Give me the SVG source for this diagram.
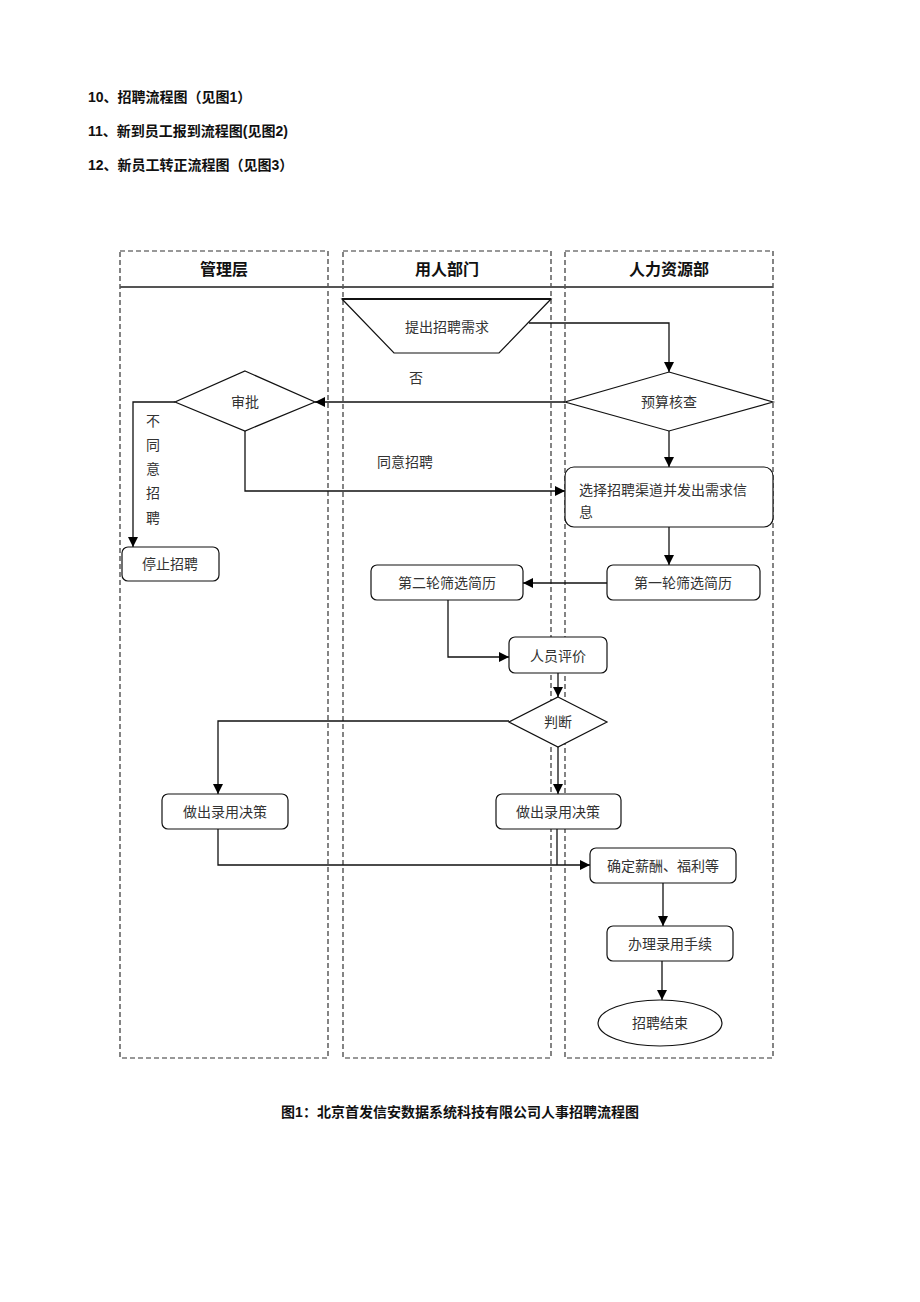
<svg xmlns="http://www.w3.org/2000/svg" width="920" height="1302" viewBox="0 0 920 1302">
<defs>
<marker id="ah" viewBox="0 0 10 10" refX="10" refY="5" markerWidth="10" markerHeight="10" markerUnits="userSpaceOnUse" orient="auto">
<path d="M0,0 L10,5 L0,10 z" fill="#000"/>
</marker>
<style>
.lane{fill:none;stroke:#333;stroke-width:1.2;stroke-dasharray:5,3}
.hd{font-family:"Liberation Sans","Noto Sans CJK SC",sans-serif;font-size:16px;font-weight:bold;fill:#111;text-anchor:middle}
.top{font-family:"Liberation Sans","Noto Sans CJK SC",sans-serif;font-size:14px;font-weight:bold;fill:#111}
.box{fill:#fff;stroke:#111;stroke-width:1.2}
.t{font-family:"Liberation Serif","Noto Sans CJK SC",serif;font-size:14px;fill:#333;text-anchor:middle;dominant-baseline:central}
.tl{font-family:"Liberation Serif","Noto Sans CJK SC",serif;font-size:14px;fill:#333;dominant-baseline:central}
.c{fill:none;stroke:#111;stroke-width:1.3}
</style>
</defs>
<rect width="920" height="1302" fill="#fff"/>
<g id="titles">
<text class="top" x="88" y="102">10、招聘流程图（见图1）</text>
<text class="top" x="88" y="136">11、新到员工报到流程图(见图2)</text>
<text class="top" x="88" y="170">12、新员工转正流程图（见图3）</text>
</g>
<g id="lanes">
<rect class="lane" x="120" y="251" width="208" height="807"/>
<rect class="lane" x="343" y="251" width="208" height="807"/>
<rect class="lane" x="565" y="251" width="208" height="807"/>
<line x1="120" y1="287" x2="773" y2="287" stroke="#555" stroke-width="2"/>
<text class="hd" x="224" y="275">管理层</text>
<text class="hd" x="447" y="275">用人部门</text>
<text class="hd" x="669" y="275">人力资源部</text>
</g>
<g id="connectors">
<polyline class="c" points="529,323 669,323 669,372" marker-end="url(#ah)"/>
<line class="c" x1="565" y1="402" x2="315" y2="402" marker-end="url(#ah)"/>
<polyline class="c" points="175,402 133,402 133,547" marker-end="url(#ah)"/>
<polyline class="c" points="245,431 245,491 565,491" marker-end="url(#ah)"/>
<line class="c" x1="669" y1="431" x2="669" y2="467" marker-end="url(#ah)"/>
<line class="c" x1="669" y1="527" x2="669" y2="565" marker-end="url(#ah)"/>
<line class="c" x1="607" y1="583" x2="523" y2="583" marker-end="url(#ah)"/>
<polyline class="c" points="448,600 448,657 509,657" marker-end="url(#ah)"/>
<line class="c" x1="558" y1="673" x2="558" y2="697" marker-end="url(#ah)"/>
<polyline class="c" points="509,721 218,721 218,794" marker-end="url(#ah)"/>
<line class="c" x1="558" y1="747" x2="558" y2="794" marker-end="url(#ah)"/>
<polyline class="c" points="218,829 218,865 590,865" marker-end="url(#ah)"/>
<line class="c" x1="557" y1="829" x2="557" y2="865" stroke-width="1"/>
<line class="c" x1="663" y1="883" x2="663" y2="926" marker-end="url(#ah)"/>
<line class="c" x1="662" y1="961" x2="662" y2="1000" marker-end="url(#ah)"/>
<text class="t" x="416" y="378">否</text>
<text class="t" x="405" y="462">同意招聘</text>
<text class="t" x="153" y="421">不</text>
<text class="t" x="153" y="445">同</text>
<text class="t" x="153" y="469">意</text>
<text class="t" x="153" y="493">招</text>
<text class="t" x="153" y="518">聘</text>
</g>
<g id="n-tichu">
<polygon class="box" points="342,299 551,299 499,353 394,353"/>
<line x1="342" y1="299" x2="551" y2="299" stroke="#111" stroke-width="2"/>
<text class="t" x="447" y="327">提出招聘需求</text>
</g>
<g id="n-yusuan">
<polygon class="box" points="669,372 773,402 669,431 565,402"/>
<text class="t" x="669" y="402">预算核查</text>
</g>
<g id="n-shenpi">
<polygon class="box" points="245,371 315,402 245,431 175,402"/>
<text class="t" x="245" y="402">审批</text>
</g>
<g id="n-tingzhi">
<rect class="box" x="122" y="547" width="97" height="34" rx="6"/>
<text class="t" x="170" y="564">停止招聘</text>
</g>
<g id="n-xuanze">
<rect class="box" x="565" y="467" width="208" height="60" rx="9"/>
<text class="tl" x="579" y="490">选择招聘渠道并发出需求信</text>
<text class="tl" x="579" y="512">息</text>
</g>
<g id="n-diyi">
<rect class="box" x="607" y="565" width="153" height="35" rx="6"/>
<text class="t" x="683" y="583">第一轮筛选简历</text>
</g>
<g id="n-dier">
<rect class="box" x="371" y="565" width="152" height="35" rx="6"/>
<text class="t" x="447" y="583">第二轮筛选简历</text>
</g>
<g id="n-renyuan">
<rect class="box" x="509" y="637" width="98" height="36" rx="6"/>
<text class="t" x="558" y="656">人员评价</text>
</g>
<g id="n-panduan">
<polygon class="box" points="558,697 607,722 558,747 509,722"/>
<text class="t" x="558" y="722">判断</text>
</g>
<g id="n-zuochu1">
<rect class="box" x="162" y="794" width="126" height="35" rx="6"/>
<text class="t" x="225" y="812">做出录用决策</text>
</g>
<g id="n-zuochu2">
<rect class="box" x="496" y="794" width="125" height="35" rx="6"/>
<text class="t" x="558" y="812">做出录用决策</text>
</g>
<g id="n-queding">
<rect class="box" x="590" y="848" width="146" height="35" rx="6"/>
<text class="t" x="663" y="866">确定薪酬、福利等</text>
</g>
<g id="n-banli">
<rect class="box" x="607" y="926" width="126" height="35" rx="6"/>
<text class="t" x="670" y="944">办理录用手续</text>
</g>
<g id="n-jieshu">
<ellipse class="box" cx="660" cy="1023" rx="62" ry="23"/>
<text class="t" x="660" y="1023">招聘结束</text>
</g>
<g id="caption">
<text class="top" x="460" y="1117" text-anchor="middle" font-size="13">图1：北京首发信安数据系统科技有限公司人事招聘流程图</text>
</g>
</svg>
